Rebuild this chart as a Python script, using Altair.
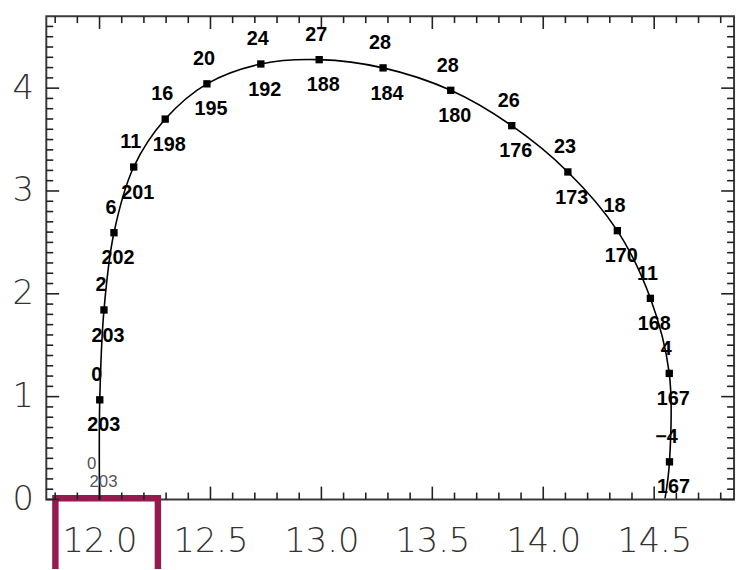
import altair as alt
import pandas as pd
import numpy as np

# ---- data ----
pt_x = [12.001, 12.020, 12.065, 12.154, 12.296, 12.484, 12.727, 12.990,
        13.278, 13.583, 13.858, 14.111, 14.334, 14.483, 14.568, 14.569]
pt_y = [0.969, 1.843, 2.594, 3.233, 3.699, 4.042, 4.235, 4.277,
        4.197, 3.979, 3.635, 3.185, 2.614, 1.956, 1.226, 0.366]
top_labels = [0, 2, 6, 11, 16, 20, 24, 27, 28, 28, 26, 23, 18, 11, 4, -4]
bottom_labels = [203, 203, 202, 201, 198, 195, 192, 188, 184, 180, 176, 173, 170, 168, 167, 167]

start_x, start_y = [12.0], [0.0]
start_top, start_bottom = [0], [203]
end_x, end_y = [14.549], [0.01]

x_major = [12.0, 12.5, 13.0, 13.5, 14.0, 14.5]
y_major = [0, 1, 2, 3, 4]
x_minor = [round(v, 1) for v in np.arange(11.8, 14.85, 0.1) if abs(round(v, 1) * 2 - round(round(v, 1) * 2)) > 1e-6]
y_minor = [round(v, 1) for v in np.arange(0.1, 4.65, 0.1) if abs(round(v, 1) - round(v)) > 1e-6]

highlight_tick = 12.0

# ---- frames ----
pts = pd.DataFrame({"x": pt_x, "y": pt_y, "top": top_labels, "bottom": bottom_labels})
curve = pd.DataFrame({
    "x": start_x + pt_x + end_x,
    "y": start_y + pt_y + end_y,
})
curve["order"] = range(len(curve))
start_df = pd.DataFrame({"x": start_x, "y": start_y, "top": start_top, "bottom": start_bottom})

W, H = 695, 488.4
xs = alt.Scale(domain=[11.76, 14.86], nice=False, zero=False)
ys = alt.Scale(domain=[0, 4.70], nice=False, zero=False)

LABEL_FONT = "DejaVu Sans"
xaxis = alt.Axis(values=x_major, format=".1f", title=None, grid=False, ticks=False, tickSize=0,
                 domain=False, labelFont=LABEL_FONT, labelFontSize=34, labelFontWeight=200,
                 labelColor="#333333", labelPadding=26, labelBaseline="top")
yaxis = alt.Axis(values=y_major, format="d", title=None, grid=False, ticks=False, tickSize=0,
                 domain=False, labelFont=LABEL_FONT, labelFontSize=34, labelFontWeight=200,
                 labelColor="#333333", labelPadding=13)

X = lambda f="x": alt.X(f"{f}:Q", scale=xs, axis=xaxis)
Y = lambda f="y": alt.Y(f"{f}:Q", scale=ys, axis=yaxis)

layers = []

# highlight box around the 12.0 tick label
box = pd.DataFrame({"x": [highlight_tick - 0.199], "x2": [highlight_tick + 0.263],
                    "y": [0.012], "y2": [-1.2]})
layers.append(alt.Chart(box).mark_rect(fillOpacity=0, stroke="#961a50", strokeWidth=6.5).encode(
    x=X(), x2="x2:Q", y=Y(), y2="y2:Q"))

# inward ticks on all four sides
TICK = dict(color="#222222", strokeWidth=1.6)
for vals, ln in [(x_major, 13), (x_minor, 7)]:
    d = pd.DataFrame({"x": vals})
    layers.append(alt.Chart(d).mark_rule(**TICK).encode(x=X(), y=alt.value(H), y2=alt.value(H - ln)))
    layers.append(alt.Chart(d).mark_rule(**TICK).encode(x=X(), y=alt.value(0), y2=alt.value(ln)))
for vals, ln in [(y_major, 13), (y_minor, 7)]:
    d = pd.DataFrame({"y": vals})
    layers.append(alt.Chart(d).mark_rule(**TICK).encode(y=Y(), x=alt.value(0), x2=alt.value(ln)))
    layers.append(alt.Chart(d).mark_rule(**TICK).encode(y=Y(), x=alt.value(W), x2=alt.value(W - ln)))

# curve
layers.append(alt.Chart(curve).mark_line(color="black", strokeWidth=1.6, interpolate="catmull-rom").encode(
    x=X(), y=Y(), order="order:Q"))

# markers
layers.append(alt.Chart(pts).mark_square(color="black", size=55, opacity=1).encode(x=X(), y=Y()))

# labels
LBL = dict(font="Liberation Sans", fontSize=20, fontWeight="bold", color="black", baseline="middle")
layers.append(alt.Chart(pts).mark_text(dx=-3, dy=-25, **LBL).encode(
    x=X(), y=Y(), text=alt.Text("top:Q", format="d")))
layers.append(alt.Chart(pts).mark_text(dx=4, dy=26, **LBL).encode(
    x=X(), y=Y(), text=alt.Text("bottom:Q", format="d")))

SLBL = dict(font="Liberation Sans", fontSize=17, color="#555555", baseline="middle")
layers.append(alt.Chart(start_df).mark_text(dx=-8, dy=-36, **SLBL).encode(
    x=X(), y=Y(), text=alt.Text("top:Q", format="d")))
layers.append(alt.Chart(start_df).mark_text(dx=4, dy=-18, **SLBL).encode(
    x=X(), y=Y(), text=alt.Text("bottom:Q", format="d")))

chart = alt.layer(*layers).properties(
    width=W, height=H,
    autosize=alt.AutoSizeParams(type="none"),
    padding={"left": 38.7, "top": 5.3, "right": 4, "bottom": 67},
    background="white",
).configure_view(stroke="#3a3a3a", strokeWidth=2)

chart.save("out.html", embed_options={"renderer": "svg", "actions": False})
